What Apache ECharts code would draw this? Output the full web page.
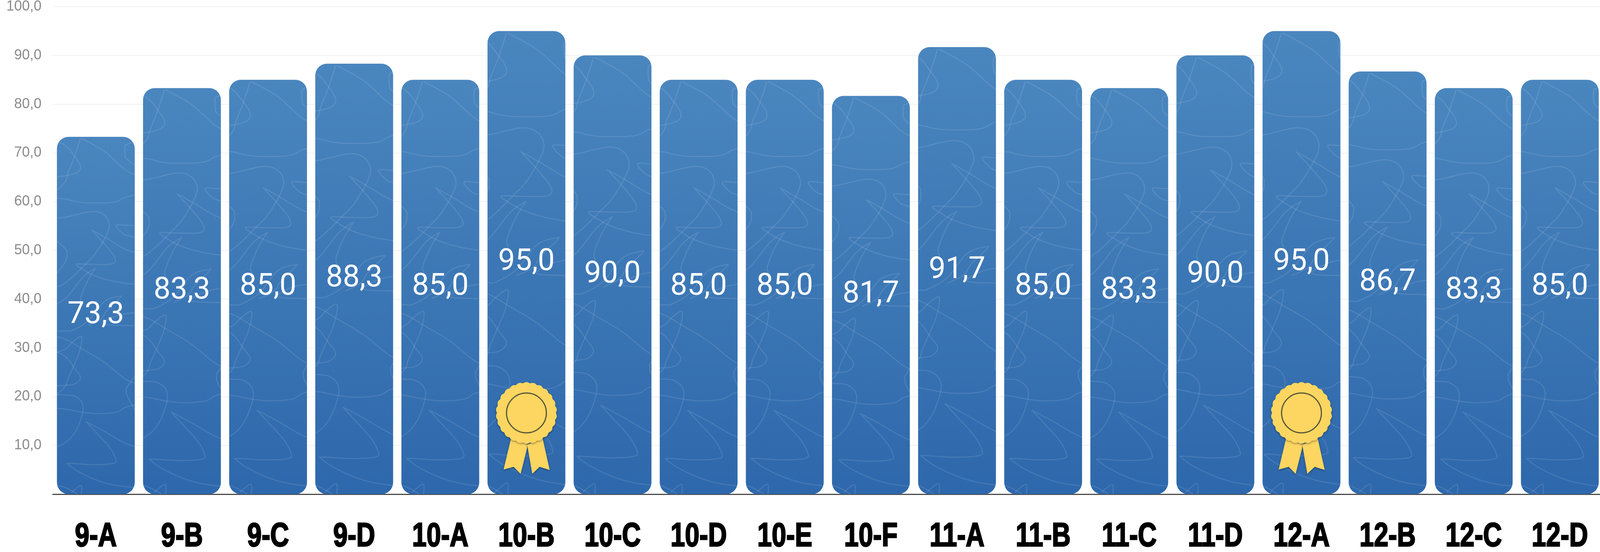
<!DOCTYPE html>
<html>
<head>
<meta charset="utf-8">
<style>html,body{margin:0;padding:0;background:#fff;overflow:hidden}#chart{width:100vw;height:100vh}</style>
<script src="https://cdn.jsdelivr.net/npm/echarts@6/dist/echarts.min.js"></script>
</head>
<body>
<div id="chart"></div>
<script>
const categories = ['9-A','9-B','9-C','9-D','10-A','10-B','10-C','10-D','10-E','10-F','11-A','11-B','11-C','11-D','12-A','12-B','12-C','12-D'];
const scores = [73.3,83.3,85.0,88.3,85.0,95.0,90.0,85.0,85.0,81.7,91.7,85.0,83.3,90.0,95.0,86.7,83.3,85.0];
const awardCategories = ['10-B','12-A'];

// Decorative scribble printed on every bar: x 22..622 spans the bar, y 142..1265 its height.
const scribble = [
  [[185,147],[400,187],[622,250]],
  [[175,147],[120,203],[60,253],[22,287]],
  [[22,167],[120,203],[175,233],[150,253],[22,265]],
  [[622,165],[600,173],[600,197],[622,213]],
  [[22,337],[160,347],[300,350],[500,347],[622,330]],
  [[22,395],[280,377],[400,387],[450,417],[420,453],[330,503],[250,533],[22,603]],
  [[622,498],[420,460],[295,437],[300,441],[400,477],[500,520],[480,541],[300,543],[140,542],[190,557],[300,577],[450,593],[622,603]],
  [[622,420],[530,418],[518,424],[560,440],[622,452]],
  [[22,490],[48,510],[22,540]],
  [[22,653],[200,583],[310,557],[305,562],[240,597],[180,647],[190,667]],
  [[22,752],[100,750],[250,720],[400,660],[550,643],[545,650],[430,687],[370,715],[250,735]],
  [[622,697],[500,707],[400,730],[622,735]],
  [[22,810],[100,787],[185,770],[170,813],[110,863],[60,900],[22,930]],
  [[22,830],[120,870],[175,897],[130,917],[22,923]],
  [[22,777],[200,810],[400,850],[622,907]],
  [[622,927],[612,940],[622,957]],
  [[22,953],[120,957],[190,977],[195,1010],[130,1067],[22,1105]],
  [[22,997],[200,1008],[350,1012],[520,1007],[622,990]],
  [[622,1108],[400,1067],[245,1040],[250,1044],[330,1073],[450,1117],[510,1153],[490,1168],[300,1172],[70,1168],[65,1173],[150,1193],[300,1217],[450,1233],[622,1242]],
  [[22,1243],[150,1265]],
  [[90,1260],[180,1238],[185,1265]]
];

// The layout was measured on a 4132-wide picture; follow the real window width.
const sx = window.innerWidth / 4132;
const barW = 201 * sx;

function extendEnds(pts) {
  const out = pts.slice();
  const push = (end, prev) => {
    const dx = end[0] - prev[0], dy = end[1] - prev[1];
    const n = Math.hypot(dx, dy) || 1;
    return [end[0] + dx / n * 200, end[1] + dy / n * 70];
  };
  if (pts[0][0] <= 22 || pts[0][0] >= 622) out.unshift(push(pts[0], pts[1]));
  const l = pts.length - 1;
  if (pts[l][0] <= 22 || pts[l][0] >= 622) out.push(push(pts[l], pts[l - 1]));
  return out;
}
function spline(pts) {
  const out = [];
  for (let i = 0; i < pts.length - 1; i++) {
    const p0 = pts[Math.max(i - 1, 0)], p1 = pts[i], p2 = pts[i + 1], p3 = pts[Math.min(i + 2, pts.length - 1)];
    for (let s = 0; s < 14; s++) {
      const t = s / 14, t2 = t * t, t3 = t2 * t;
      out.push([0, 1].map(k => 0.5 * (2 * p1[k] + (p2[k] - p0[k]) * t + (2 * p0[k] - 5 * p1[k] + 4 * p2[k] - p3[k]) * t2 + (3 * p1[k] - p0[k] - 3 * p2[k] + p3[k]) * t3)));
    }
  }
  out.push(pts[pts.length - 1]);
  return out;
}
const scribbleCurves = scribble.map(c => spline(extendEnds(c)));

function renderScribble(params, api) {
  const idx = api.value(0);
  const top = api.coord([idx, api.value(1)]);
  const base = api.coord([idx, 0]);
  const h = base[1] - top[1], k = h / 1123, left = top[0] - barW / 2;
  return {
    type: 'group',
    clipPath: { type: 'rect', shape: { x: left, y: top[1], width: barW, height: h, r: 30 } },
    children: scribbleCurves.map(c => ({
      type: 'polyline',
      shape: { points: c.map(p => [top[0] + (p[0] - 322) / 3 * k * sx, top[1] + (p[1] - 142) * k]) },
      style: { fill: null, stroke: 'rgba(255,255,255,0.10)', lineWidth: 3 }
    }))
  };
}

function renderMedal(params, api) {
  const b = api.coord([api.value(0), 0]);
  const cx = b[0], cy = b[1] - 208;
  const rosette = [];
  for (let a = 0; a < 360; a += 1.5) {
    const t = a * Math.PI / 180;
    const r = 76 + 3 * Math.abs(Math.sin(t * 13));
    rosette.push([cx + r * sx * Math.cos(t), cy + r * Math.sin(t)]);
  }
  const tail = pts => pts.map(p => [cx + p[0] * sx, cy + p[1]]);
  const fill = { fill: '#FCD660', shadowBlur: 5, shadowColor: 'rgba(0,0,0,0.4)', shadowOffsetY: 2 };
  return {
    type: 'group',
    children: [
      { type: 'polygon', shape: { points: tail([[-40,66],[4,81],[-15,156],[-33,138],[-59,145]]) }, style: fill },
      { type: 'polygon', shape: { points: tail([[2,81],[42,66],[60,146],[34,138],[15,156]]) }, style: fill },
      { type: 'polygon', shape: { points: rosette }, style: fill },
      { type: 'circle', shape: { cx, cy, r: 51 }, style: { fill: null, stroke: '#55543c', lineWidth: 3 } }
    ]
  };
}

function renderCategoryLabel(params, api) {
  const p = api.coord([api.value(0), 0]);
  return {
    type: 'text', x: p[0], y: p[1] + 110, scaleX: 0.79 * sx, scaleY: 1,
    style: {
      text: categories[api.value(0)], align: 'center', verticalAlign: 'middle', fill: '#000',
      font: 'bold 85px "Liberation Sans",sans-serif', stroke: '#000', lineWidth: 3
    }
  };
}

const comma = v => v.toFixed(1).replace('.', ',');
const chart = echarts.init(document.getElementById('chart'), null, { renderer: 'canvas' });
chart.setOption({
  animation: false,
  backgroundColor: '#ffffff',
  grid: { left: 136.3 * sx, top: 17, width: 4003.2 * sx, height: 1248, containLabel: false, outerBoundsMode: 'none' },
  xAxis: {
    type: 'category',
    data: categories,
    axisTick: { show: false },
    axisLine: { show: true, lineStyle: { color: '#4a4a4a', width: 3 } },
    axisLabel: { show: false }
  },
  yAxis: {
    type: 'value', min: 0, max: 100, interval: 10,
    axisLine: { show: false }, axisTick: { show: false },
    splitLine: { lineStyle: { color: '#f1f1f1', width: 2 } },
    axisLabel: {
      margin: 29 * sx, color: '#8c8c8c', fontSize: 36,
      fontFamily: '"Liberation Sans",Arial,sans-serif',
      formatter: v => v === 0 ? '' : comma(v)
    }
  },
  series: [
    {
      type: 'bar', data: scores, barWidth: barW, barGap: '-100%', z: 2,
      itemStyle: {
        borderRadius: 30,
        color: new echarts.graphic.LinearGradient(0, 0, 0, 1, [
          { offset: 0, color: '#4A86BE' },
          { offset: 1, color: '#2E68AC' }
        ])
      }
    },
    {
      type: 'custom', z: 3, clip: false,
      data: scores.map((v, i) => [i, v]),
      encode: { x: 0, y: 1 },
      renderItem: renderScribble
    },
    {
      type: 'bar', data: scores, barWidth: barW, barGap: '-100%', z: 4,
      itemStyle: { color: 'rgba(0,0,0,0)' },
      label: {
        show: true, position: 'inside', color: '#fff', fontSize: 77,
        fontFamily: 'Roboto,"Liberation Sans",sans-serif', fontWeight: 400,
        formatter: p => comma(p.value)
      }
    },
    {
      type: 'custom', z: 5, clip: false,
      data: awardCategories.map(c => [categories.indexOf(c)]),
      encode: { x: 0 },
      renderItem: renderMedal
    },
    {
      type: 'custom', z: 5, clip: false,
      data: categories.map((c, i) => [i]),
      encode: { x: 0 },
      renderItem: renderCategoryLabel
    }
  ]
});
</script>
</body>
</html>
